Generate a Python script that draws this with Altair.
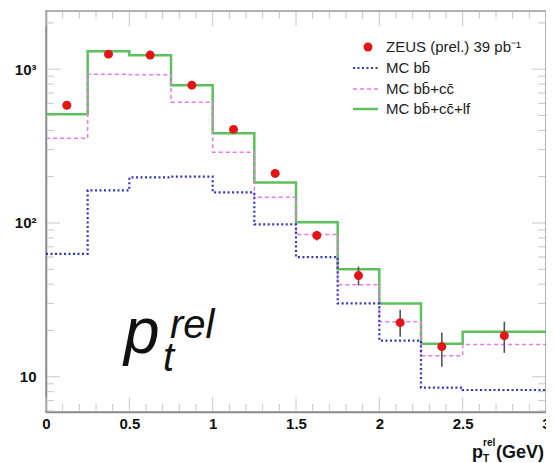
import altair as alt
import pandas as pd

# ---------------- data ----------------
edges = [0, 0.25, 0.5, 0.75, 1.0, 1.25, 1.5, 1.75, 2.0, 2.25, 2.5, 3.0]
mc_bb = [63, 163, 198, 200, 158, 98, 60, 30, 17.2, 8.5, 8.2]
mc_bbcc = [355, 928, 920, 610, 288, 147, 84, 39.7, 22.8, 13.7, 16.2]
mc_all = [509, 1310, 1230, 787, 383, 183, 101, 50, 30, 16.4, 19.6]

data_x = [0.125, 0.375, 0.625, 0.875, 1.125, 1.375, 1.625, 1.875, 2.125, 2.375, 2.75]
data_y = [583, 1253, 1235, 787, 406, 210, 83, 45.5, 22.5, 15.7, 18.5]
data_lo = [570, 1235, 1218, 775, 398, 204, 77, 39.2, 18.2, 11.6, 14.3]
data_hi = [596, 1271, 1252, 800, 414, 216, 89, 52.1, 27.3, 19.4, 22.8]

x_ticks = [0, 0.5, 1, 1.5, 2, 2.5, 3]
x_minor = [0.1, 0.2, 0.3, 0.4, 0.6, 0.7, 0.8, 0.9, 1.1, 1.2, 1.3, 1.4, 1.6, 1.7,
           1.8, 1.9, 2.1, 2.2, 2.3, 2.4, 2.6, 2.7, 2.8, 2.9]
y_ticks = [10, 100, 1000]
y_minor = [6, 7, 8, 9, 20, 30, 40, 50, 60, 70, 80, 90,
           200, 300, 400, 500, 600, 700, 800, 900, 2000]

legend_labels = ["ZEUS (prel.) 39 pb\u207b\u00b9", "MC bb\u0304", "MC bb\u0304+cc\u0304", "MC bb\u0304+cc\u0304+lf"]

W, H = 500, 401
FONT = "Liberation Sans"

xs = alt.Scale(domain=[0, 3], nice=False, zero=False)
ys = alt.Scale(type="log", domain=[5.9, 2390], nice=False)

xaxis = alt.Axis(values=x_ticks, labelExpr="format(datum.value, '~g')", ticks=False,
                 grid=False, labelFlush=False, labelOverlap=False, labelFont=FONT,
                 labelFontSize=15, labelFontWeight="bold", labelColor="#111",
                 labelPadding=4, domainColor="#888", domainWidth=1.5, title=None)
yaxis = alt.Axis(values=y_ticks,
                 labelExpr="datum.value == 1000 ? '10\u00b3' : datum.value == 100 ? '10\u00b2' : '10'",
                 ticks=False, grid=False, labelFont=FONT, labelFontSize=15,
                 labelFontWeight="bold", labelColor="#111", labelPadding=10,
                 domainColor="#888", domainWidth=1.5, title=None)


def X(f):
    return alt.X(f, type="quantitative", scale=xs, axis=xaxis)


def Y(f):
    return alt.Y(f, type="quantitative", scale=ys, axis=yaxis)


def steps(vals, name):
    return pd.DataFrame({"x": edges, "v": list(vals) + [vals[-1]], "s": name})


green = alt.Chart(steps(mc_all, "all")).mark_line(
    interpolate="step-after", color="#5cc05c", strokeWidth=2.5).encode(x=X("x"), y=Y("v"))
magenta = alt.Chart(steps(mc_bbcc, "bbcc")).mark_line(
    interpolate="step-after", color="#ee77ee", strokeWidth=1.5, strokeDash=[4, 3]).encode(x=X("x"), y=Y("v"))
blue = alt.Chart(steps(mc_bb, "bb")).mark_line(
    interpolate="step-after", color="#3333c8", strokeWidth=2.2, strokeDash=[2, 2.5]).encode(x=X("x"), y=Y("v"))

pts = pd.DataFrame({"x": data_x, "y": data_y, "lo": data_lo, "hi": data_hi})
err = alt.Chart(pts).mark_rule(color="#555", strokeWidth=1.6).encode(
    x=X("x"), y=Y("lo"), y2="hi")
dots = alt.Chart(pts).mark_circle(color="#e51515", opacity=1, size=80).encode(
    x=X("x"), y=Y("y"))

# inward ticks
tick_col = "#c8c8c8"
ymaj = pd.DataFrame({"v": y_ticks})
ymin = pd.DataFrame({"v": y_minor})
xmaj = pd.DataFrame({"v": x_ticks})
xmin = pd.DataFrame({"v": x_minor})
tk = []
for df, L in [(ymaj, 13), (ymin, 7)]:
    tk.append(alt.Chart(df).mark_rule(color=tick_col, strokeWidth=1).encode(
        y=Y("v"), x=alt.value(1), x2=alt.value(1 + L)))
    tk.append(alt.Chart(df).mark_rule(color=tick_col, strokeWidth=1).encode(
        y=Y("v"), x=alt.value(W - 1 - L), x2=alt.value(W - 1)))
for df, L in [(xmaj, 14), (xmin, 7)]:
    tk.append(alt.Chart(df).mark_rule(color=tick_col, strokeWidth=1).encode(
        x=X("v"), y=alt.value(H - 1), y2=alt.value(H - 1 - L)))
    tk.append(alt.Chart(df).mark_rule(color=tick_col, strokeWidth=1).encode(
        x=X("v"), y=alt.value(1), y2=alt.value(1 + L)))

# legend
one = pd.DataFrame({"a": [0]})
leg_dot = alt.Chart(one).mark_circle(color="#e51515", opacity=1, size=80).encode(
    x=alt.value(322), y=alt.value(36))
leg_blue = alt.Chart(one).mark_rule(color="#3333c8", strokeWidth=2.2, strokeDash=[2, 2.5]).encode(
    x=alt.value(307), x2=alt.value(332), y=alt.value(57))
leg_mag = alt.Chart(one).mark_rule(color="#ee77ee", strokeWidth=1.5, strokeDash=[4, 3]).encode(
    x=alt.value(307), x2=alt.value(332), y=alt.value(78))
leg_green = alt.Chart(one).mark_rule(color="#5cc05c", strokeWidth=2.5).encode(
    x=alt.value(307), x2=alt.value(332), y=alt.value(98))
leg_text = []
for lab, yy in zip(legend_labels, [36, 57, 78, 98]):
    leg_text.append(alt.Chart(pd.DataFrame({"t": [lab]})).mark_text(
        align="left", baseline="middle", font=FONT, fontSize=15, color="#222").encode(
        text="t:N", x=alt.value(340), y=alt.value(yy)))


def txt(t, x, y, size, style="italic", weight="normal"):
    return alt.Chart(pd.DataFrame({"t": [t]})).mark_text(
        align="left", baseline="alphabetic", font=FONT, fontSize=size, fontStyle=style,
        fontWeight=weight, color="#111").encode(text="t:N", x=alt.value(x), y=alt.value(y))


# big annotation p_t^rel
ann = [txt("p", 78, 342, 64), txt("t", 117, 360, 40), txt("rel", 124, 327, 40)]

# x-axis title p_T^rel(GeV)
xt = [txt("p", 426, 447, 18, style="normal", weight="bold"),
      txt("T", 437, 451, 10, style="normal", weight="bold"),
      txt("rel", 437, 435, 10, style="normal", weight="bold"),
      txt("(GeV)", 450, 447, 18, style="normal", weight="bold")]

chart = alt.layer(green, magenta, blue, err, dots, *tk, leg_dot, leg_blue, leg_mag, leg_green,
                  *leg_text, *ann, *xt).properties(
    width=W, height=H,
    autosize=alt.AutoSizeParams(type="none"),
    padding={"left": 38, "top": 3, "right": 0, "bottom": 51},
    background="white",
).configure_view(stroke="#999", strokeWidth=1.5)

chart.save("out.html", embed_options={"renderer": "svg", "actions": False})
